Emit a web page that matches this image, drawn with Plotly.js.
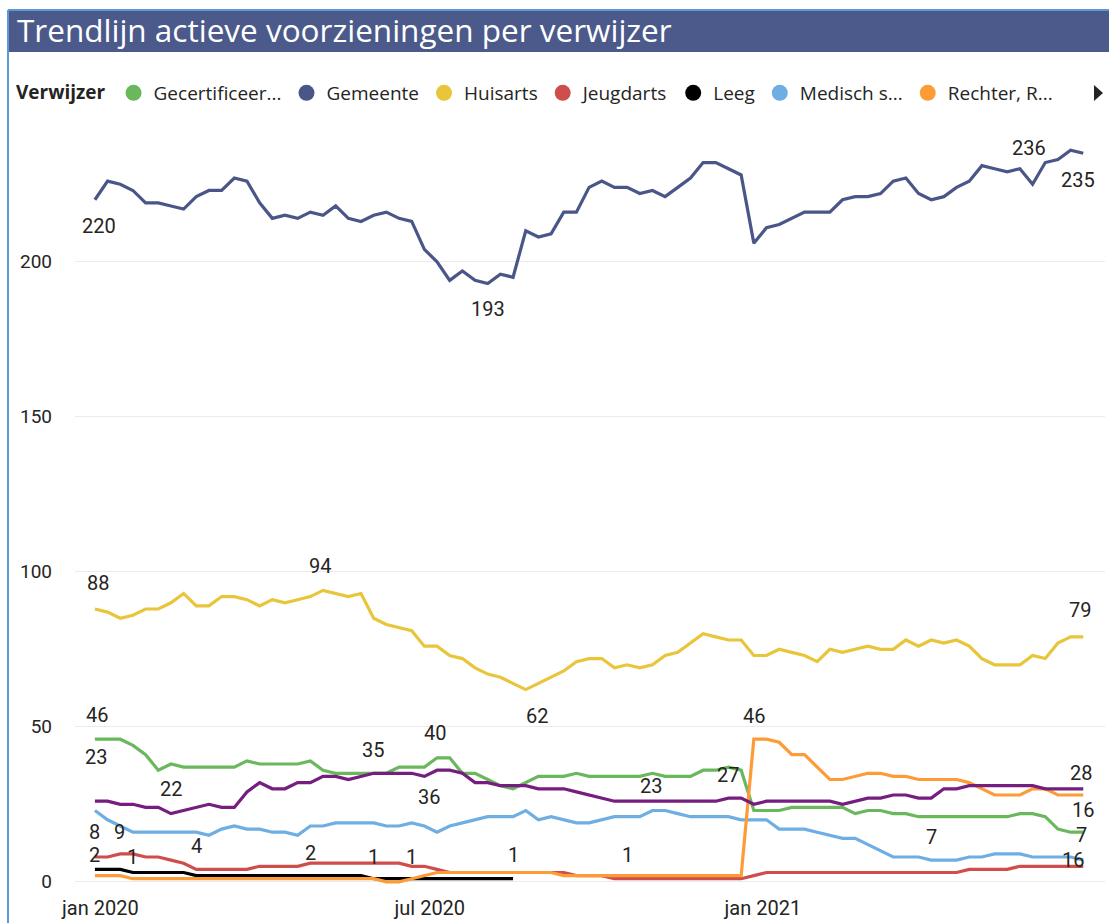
<!DOCTYPE html>
<html><head><meta charset="utf-8">
<script src="https://cdn.plot.ly/plotly-3.0.1.min.js"></script>
<style>html,body{margin:0;padding:0;background:#fff;} #chart{width:1109px;height:923px;}</style>
</head><body><div id="chart"></div>
<script>
// ---------- DATA ----------
const weeks = [
 '2019-12-29','2020-01-05','2020-01-12','2020-01-19','2020-01-26','2020-02-02','2020-02-09','2020-02-16','2020-02-23','2020-03-01',
 '2020-03-08','2020-03-15','2020-03-22','2020-03-29','2020-04-05','2020-04-12','2020-04-19','2020-04-26','2020-05-03','2020-05-10',
 '2020-05-17','2020-05-24','2020-05-31','2020-06-07','2020-06-14','2020-06-21','2020-06-28','2020-07-05','2020-07-12','2020-07-19',
 '2020-07-26','2020-08-02','2020-08-09','2020-08-16','2020-08-23','2020-08-30','2020-09-06','2020-09-13','2020-09-20','2020-09-27',
 '2020-10-04','2020-10-11','2020-10-18','2020-10-25','2020-11-01','2020-11-08','2020-11-15','2020-11-22','2020-11-29','2020-12-06',
 '2020-12-13','2020-12-20','2020-12-27','2021-01-03','2021-01-10','2021-01-17','2021-01-24','2021-01-31','2021-02-07','2021-02-14',
 '2021-02-21','2021-02-28','2021-03-07','2021-03-14','2021-03-21','2021-03-28','2021-04-04','2021-04-11','2021-04-18','2021-04-25',
 '2021-05-02','2021-05-09','2021-05-16','2021-05-23','2021-05-30','2021-06-06','2021-06-13','2021-06-20','2021-06-27'
];

const gecertificeerd = [46,46,46,44,41,36,38,37,37,37, 37,37,39,38,38,38,38,39,36,35, 35,35,35,35,37,37,37,40,40,35,
 35,33,31,30,32,34,34,34,35,34, 34,34,34,34,35,34,34,34,36,36, 37,36,23,23,23,24,24,24,24,24, 22,23,23,22,22,21,21,21,21,21,
 21,21,21,22,22,21,17,16,16];
const gemeente = [220,226,225,223,219,219,218,217,221,223, 223,227,226,219,214,215,214,216,215,218, 214,213,215,216,214,213,204,200,194,197,
 194,193,196,195,210,208,209,216,216,224, 226,224,224,222,223,221,224,227,232,232, 230,228,206,211,212,214,216,216,216,220,
 221,221,222,226,227,222,220,221,224,226, 231,230,229,230,225,232,233,236,235];
const huisarts = [88,87,85,86,88,88,90,93,89,89, 92,92,91,89,91,90,91,92,94,93, 92,93,85,83,82,81,76,76,73,72,
 69,67,66,64,62,64,66,68,71,72, 72,69,70,69,70,73,74,77,80,79, 78,78,73,73,75,74,73,71,75,74,
 75,76,75,75,78,76,78,77,78,76, 72,70,70,70,73,72,77,79,79];
const jeugdarts = [8,8,9,9,8,8,7,6,4,4, 4,4,4,5,5,5,5,6,6,6, 6,6,6,6,6,5,5,4,3,3, 3,3,3,3,3,3,3,3,2,2,
 2,1,1,1,1,1,1,1,1,1, 1,1,2,3,3,3,3,3,3,3, 3,3,3,3,3,3,3,3,3,4, 4,4,4,5,5,5,5,5,5];
const leeg = [4,4,4,3,3,3,3,3,2,2, 2,2,2,2,2,2,2,2,2,2, 2,2,1,1,1,1,1,1,1,1, 1,1,1,1];
const medisch = [23,20,18,16,16,16,16,16,16,15, 17,18,17,17,16,16,15,18,18,19, 19,19,19,18,18,19,18,16,18,19,
 20,21,21,21,23,20,21,20,19,19, 20,21,21,21,23,23,22,21,21,21, 21,20,20,20,17,17,17,16,15,14,
 14,12,10,8,8,8,7,7,7,8, 8,9,9,9,8,8,8,8,7];
const rechter = [2,2,2,1,1,1,1,1,1,1, 1,1,1,1,1,1,1,1,1,1, 1,1,1,0,0,1,2,3,3,3, 3,3,3,3,3,3,3,2,2,2,
 2,2,2,2,2,2,2,2,2,2, 2,2,46,46,45,41,41,37,33,33, 34,35,35,34,34,33,33,33,33,32, 30,28,28,28,30,30,28,28,28];
const overig = [26,26,25,25,24,24,22,23,24,25, 24,24,29,32,30,30,32,32,34,34, 33,34,35,35,35,35,34,36,36,35,
 32,32,31,31,31,30,30,30,29,28, 27,26,26,26,26,26,26,26,26,26, 27,27,25,26,26,26,26,26,26,25,
 26,27,27,28,28,27,27,30,30,31, 31,31,31,31,31,30,30,30,30];

const legendNames = ['Gecertificeer...','Gemeente','Huisarts','Jeugdarts','Leeg','Medisch s...','Rechter, R...'];
const tickDates = ['2020-01-01','2020-07-01','2021-01-01'];
const tickLabels = ['jan 2020','jul 2020','jan 2021'];
const yTickValues = [0,50,100,150,200];
const titleText = 'Trendlijn actieve voorzieningen per verwijzer';
const legendTitle = 'Verwijzer';

// ---------- STYLE ----------
const colors = {gec:'#6ab85c', gem:'#4a5688', hui:'#e8c53a', jeu:'#cf4e4b', lee:'#000000', med:'#6eaee2', rec:'#fd9b36', ove:'#761d80'};
const W=1109, H=923, L=75, R=4, T=130, B=35;
const pw=W-L-R, ph=H-T-B;
const px = x => (x-L)/pw;
const py = y => (H-B-y)/ph;

const series = [
  {key:'gec', name:legendNames[0], y:gecertificeerd},
  {key:'gem', name:legendNames[1], y:gemeente},
  {key:'hui', name:legendNames[2], y:huisarts},
  {key:'jeu', name:legendNames[3], y:jeugdarts},
  {key:'lee', name:legendNames[4], y:leeg},
  {key:'med', name:legendNames[5], y:medisch},
  {key:'rec', name:legendNames[6], y:rechter},
  {key:'ove', name:'Overig', y:overig}
];
const byKey = {}; series.forEach(s=>byKey[s.key]=s);

const traces = [];
series.forEach(s=>{
  traces.push({type:'scatter', mode:'lines', name:s.name, x:weeks.slice(0,s.y.length), y:s.y,
    line:{color:colors[s.key], width:3.2}, showlegend:false, hoverinfo:'x+y'});
});
series.slice(0,7).forEach(s=>{
  traces.push({type:'scatter', mode:'markers', name:s.name, x:[null], y:[null],
    marker:{color:colors[s.key], size:16}, showlegend:true, hoverinfo:'skip'});
});

// data labels: [series, point index, text, xshift, yshift]
const labelSpecs = [
  ['gem',0,'220',4,-26],['gem',31,'193',0,-26],['gem',77,'236',-42,2],['gem',78,'235',-5,-27],
  ['hui',0,'88',3,26],['hui',18,'94',-3,24],['hui',34,'62',11,-26],['hui',78,'79',-3,27],
  ['gec',0,'46',2,24],['gec',27,'40',-2,25],['gec',78,'16',0,22],
  ['ove',22,'35',-1,23],['ove',27,'36',-8,-27],['ove',6,'22',0,25],['ove',50,'27',0,23],
  ['med',0,'23',1,53],['med',44,'23',-1,24],['med',66,'7',0,23],['med',78,'7',-2,25],['med',78,'16',-10,0],
  ['rec',52,'46',0,23],['rec',78,'28',-2,22],['rec',0,'2',0,21],['rec',3,'1',0,22],['rec',22,'1',0,22],['rec',25,'1',0,22],
  ['jeu',0,'8',0,25],['jeu',2,'9',-1,22],['jeu',8,'4',0,23],['jeu',42,'1',0,24],
  ['lee',17,'2',0,23],['lee',33,'1',0,24]
];
const labelFont = {family:'Roboto, sans-serif', size:20, color:'#252423'};
const annotations = labelSpecs.map(([k,i,t,dx,dy])=>({
  xref:'x', yref:'y', x:weeks[i], y:byKey[k].y[i], text:t, showarrow:false,
  xshift:dx, yshift:dy, font:labelFont, xanchor:'center', yanchor:'middle'
}));

const shapes = [
  {type:'rect', xref:'paper', yref:'paper', x0:px(8), x1:px(1109), y0:py(52), y1:py(10), fillcolor:'#4b5a8a', line:{width:0}},
  {type:'line', xref:'paper', yref:'paper', x0:px(8), x1:px(1109), y0:py(10), y1:py(10), line:{color:'#5b9bd5', width:2}},
  {type:'line', xref:'paper', yref:'paper', x0:px(8), x1:px(8), y0:py(10), y1:py(923), line:{color:'#5b9bd5', width:2}},
  {type:'path', xref:'paper', yref:'paper',
   path:`M ${px(1094)} ${py(85)} L ${px(1094)} ${py(101)} L ${px(1103)} ${py(93)} Z`,
   fillcolor:'#252423', line:{width:0}}
];

const layout = {
  width:W, height:H,
  margin:{l:L, r:R, t:T, b:B, pad:0},
  paper_bgcolor:'#ffffff', plot_bgcolor:'#ffffff',
  title:{text:titleText, xref:'container', yref:'container', x:17/W, xanchor:'left', y:1-31/H, yanchor:'middle',
    font:{family:'"Open Sans", sans-serif', size:31.5, color:'#ffffff'}},
  showlegend:true,
  legend:{orientation:'h', xref:'container', yref:'container', x:14/W, xanchor:'left', y:1-93/H, yanchor:'middle',
    font:{family:'"Open Sans", sans-serif', size:19, color:'#252423'},
    title:{text:'<b>'+legendTitle+'</b>', side:'left', font:{family:'"Open Sans", sans-serif', size:19, color:'#252423'}},
    bgcolor:'rgba(0,0,0,0)', itemsizing:'trace', itemwidth:30, traceorder:'normal'},
  xaxis:{type:'date', range:['2019-12-18','2021-07-09'], tickvals:tickDates, ticktext:tickLabels,
    showgrid:false, zeroline:false, showline:false, ticks:'', ticklabelstandoff:6,
    tickfont:{family:'Roboto, sans-serif', size:20, color:'#252423'}, fixedrange:true},
  yaxis:{range:[-2,242.5], tickvals:yTickValues, showgrid:true, gridcolor:'#ebebeb', gridwidth:1,
    zeroline:false, showline:false, ticks:'', ticklabelstandoff:22,
    tickfont:{family:'Roboto, sans-serif', size:19, color:'#252423'}, fixedrange:true},
  shapes:shapes,
  annotations:annotations,
  hovermode:false
};

Plotly.newPlot('chart', traces, layout, {displayModeBar:false, staticPlot:true});
</script>
</body></html>
